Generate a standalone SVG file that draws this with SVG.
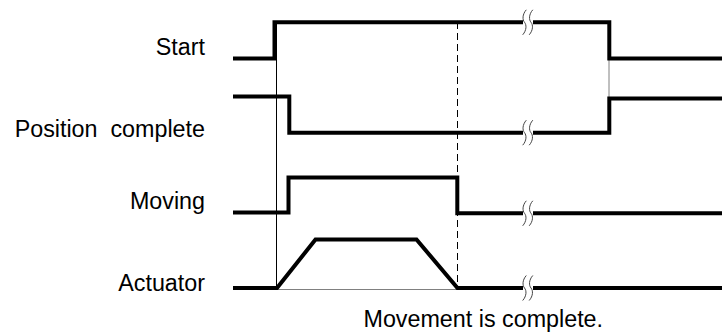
<svg xmlns="http://www.w3.org/2000/svg" width="722" height="333" viewBox="0 0 722 333">
<style>
.lbl{font-family:"Liberation Sans",Arial,sans-serif;font-size:23.3px;fill:#000}
.sig{fill:none;stroke:#000;stroke-width:4;stroke-linejoin:miter;stroke-linecap:butt}
.thin{fill:none;stroke:#000;stroke-width:1}
.gray{fill:none;stroke:#808080;stroke-width:1}
.brk{fill:none;stroke:#444;stroke-width:1}
</style>
<defs>
<path id="s" d="M1.8,-12.5 C-2.2,-8 -2.2,-2.5 0,0 C2.2,2.5 2.2,8 -1.8,12.5"/>
</defs>
<rect width="722" height="333" fill="#fff"/>
<g id="guides">
<line class="thin" x1="276.5" y1="22" x2="276.5" y2="289.5"/>
<line class="thin" x1="457.5" y1="22" x2="457.5" y2="288" stroke-dasharray="7,4"/>
<line class="gray" x1="609" y1="58" x2="609" y2="99"/>
<line class="gray" x1="277" y1="289.5" x2="457.5" y2="289.5"/>
</g>
<g id="start">
<text class="lbl" x="205" y="55" text-anchor="end">Start</text>
<path class="sig" d="M233,58.5 H274.5 V22.3 H523 M533,22.3 H609.3 V58.5 H722"/>
</g>
<g id="position-complete">
<text class="lbl" x="205" y="137.3" text-anchor="end" xml:space="preserve">Position  complete</text>
<path class="sig" d="M233,96.5 H289.3 V132.7 H523 M533,132.7 H609.3 V98.5 H722"/>
</g>
<g id="moving">
<text class="lbl" x="205" y="209.3" text-anchor="end">Moving</text>
<path class="sig" d="M233,212.5 H288.5 V177.5 H457.3 V213.3 H523 M533,213.3 H722"/>
</g>
<g id="actuator">
<text class="lbl" x="205" y="290.7" text-anchor="end">Actuator</text>
<path class="sig" d="M233,288 H277 L315.5,239.5 H416.5 L457.5,288 H523 M533,288 H722"/>
</g>
<g id="breaks">
<use href="#s" class="brk" x="524.5" y="22.3"/>
<use href="#s" class="brk" x="531" y="22.3"/>
<use href="#s" class="brk" x="524.5" y="132.7"/>
<use href="#s" class="brk" x="531" y="132.7"/>
<use href="#s" class="brk" x="524.5" y="213.3"/>
<use href="#s" class="brk" x="531" y="213.3"/>
<use href="#s" class="brk" x="524.5" y="288"/>
<use href="#s" class="brk" x="531" y="288"/>
</g>
<g id="note">
<text class="lbl" x="363.5" y="326.7">Movement is complete.</text>
</g>
</svg>
